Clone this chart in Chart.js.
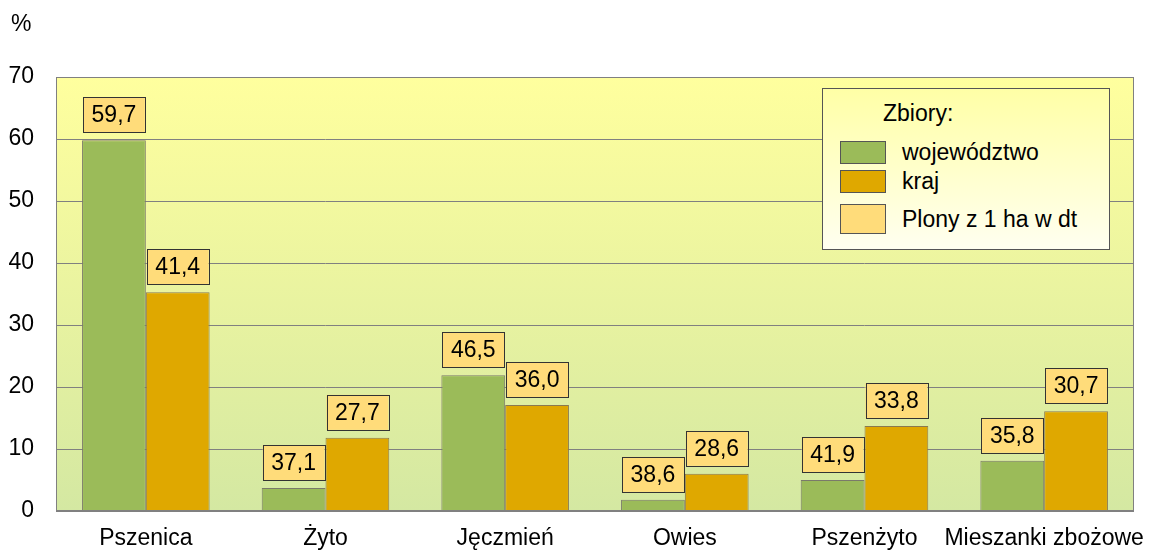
<!DOCTYPE html>
<html lang="pl">
<head>
<meta charset="utf-8">
<script src="https://cdn.jsdelivr.net/npm/chart.js@4/dist/chart.umd.min.js"></script>
<style>
  html, body { margin: 0; padding: 0; background: #fff; }
  #wrap { position: relative; width: 1150px; height: 551px; font-family: 'Liberation Sans', Arial, sans-serif; }
  #unit { position: absolute; left: 11px; top: 10px; font-size: 23px; color: #000; }
  #legenda {
    position: absolute; left: 822px; top: 88px; width: 288px; height: 162px;
    border: 1px solid #555; box-sizing: border-box;
    background: linear-gradient(#ffffa6, #fffff0);
    font-size: 23px; color: #000;
  }
  #legenda .tytul { position: absolute; left: 60px; top: 11px; }
  #legenda .poz { position: absolute; left: 17px; display: flex; align-items: center; }
  #legenda .kolor { width: 46px; border: 1px solid #555; box-sizing: border-box; margin-right: 16px; }
</style>
</head>
<body>
<div id="wrap">
  <canvas id="wykres" width="1150" height="551"></canvas>
  <div id="unit">%</div>
  <div id="legenda">
    <div class="tytul">Zbiory:</div>
    <div class="poz" style="top:50px"><div class="kolor" style="height:23px;background:#9bbb59"></div>województwo</div>
    <div class="poz" style="top:79px"><div class="kolor" style="height:23px;background:#dfa800"></div>kraj</div>
    <div class="poz" style="top:115px"><div class="kolor" style="height:30px;background:#ffdc7a"></div>Plony z 1 ha w dt</div>
  </div>
</div>
<script>
// dane
const zboza = ['Pszenica', 'Żyto', 'Jęczmień', 'Owies', 'Pszenżyto', 'Mieszanki zbożowe'];
const zbioryWojewodztwo = [59.8, 3.7, 21.9, 1.8, 5.0, 8.1];
const zbioryKraj = [35.3, 11.8, 17.1, 6.0, 13.7, 16.1];
const plonyWojewodztwo = [59.7, 37.1, 46.5, 38.6, 41.9, 35.8];
const plonyKraj = [41.4, 27.7, 36.0, 28.6, 33.8, 30.7];
const osY = [0, 10, 20, 30, 40, 50, 60, 70];

const FONT = "'Liberation Sans', Arial, sans-serif";
const ROZMIAR = 23;

// tło obszaru wykresu (gradient)
const tloPlugin = {
    id: 'tlo',
    beforeDraw(chart) {
        const { ctx, chartArea: a } = chart;
        const g = ctx.createLinearGradient(0, a.top, 0, a.bottom);
        g.addColorStop(0, '#ffff9e');
        g.addColorStop(1, '#d4e8a2');
        ctx.save();
        ctx.fillStyle = g;
        ctx.fillRect(a.left, a.top, a.right - a.left, a.bottom - a.top);
        ctx.restore();
    },
    afterDatasetsDraw(chart) {
        const { ctx, chartArea: a } = chart;
        ctx.save();
        ctx.strokeStyle = '#808080';
        ctx.lineWidth = 1;
        ctx.strokeRect(a.left + 0.5, a.top + 0.5, a.right - a.left - 1, a.bottom - a.top);
        ctx.lineWidth = 2;
        ctx.beginPath();
        ctx.moveTo(a.left, a.bottom);
        ctx.lineTo(a.right, a.bottom);
        ctx.stroke();
        ctx.restore();
    }
};

// etykiety z plonami nad słupkami
const plonyPlugin = {
    id: 'plony',
    afterDatasetsDraw(chart) {
        const { ctx } = chart;
        const plony = [plonyWojewodztwo, plonyKraj];
        ctx.save();
        ctx.font = ROZMIAR + 'px ' + FONT;
        ctx.textAlign = 'center';
        ctx.textBaseline = 'middle';
        plony.forEach((arr, d) => {
            chart.getDatasetMeta(d).data.forEach((bar, i) => {
                const w = bar.width - 2;
                const h = 35;
                const x = bar.x - w / 2;
                const y = bar.y - 8 - h;
                ctx.fillStyle = '#ffdc7a';
                ctx.fillRect(x, y, w, h);
                ctx.strokeStyle = '#333';
                ctx.lineWidth = 1;
                ctx.strokeRect(Math.round(x) + 0.5, Math.round(y) + 0.5, Math.round(w), h);
                ctx.fillStyle = '#000';
                ctx.fillText(arr[i].toFixed(1).replace('.', ','), bar.x, y + h / 2 + 1);
            });
        });
        ctx.restore();
    }
};

const ctx = document.getElementById('wykres').getContext('2d');
new Chart(ctx, {
    type: 'bar',
    data: {
        labels: zboza,
        datasets: [
            {
                label: 'województwo',
                data: zbioryWojewodztwo,
                backgroundColor: '#9bbb59',
                borderColor: '#7a7a6a',
                borderWidth: 1,
                categoryPercentage: 0.71,
                barPercentage: 1.0
            },
            {
                label: 'kraj',
                data: zbioryKraj,
                backgroundColor: '#dfa800',
                borderColor: '#8a7a50',
                borderWidth: 1,
                categoryPercentage: 0.71,
                barPercentage: 1.0
            }
        ]
    },
    options: {
        responsive: false,
        animation: false,
        layout: { padding: { top: 77, right: 16, left: 0, bottom: 0 } },
        plugins: {
            legend: { display: false },
            tooltip: { enabled: false }
        },
        scales: {
            x: {
                grid: { display: false, drawTicks: false },
                border: { display: false },
                ticks: { color: '#000', font: { family: FONT, size: ROZMIAR }, padding: 14, maxRotation: 0, autoSkip: false },
                afterFit(s) { s.height = 40; s.paddingLeft = 0; s.paddingRight = 0; }
            },
            y: {
                min: osY[0],
                max: osY[osY.length - 1],
                afterBuildTicks(s) { s.ticks = osY.map(v => ({ value: v })); },
                grid: { color: '#808080', drawTicks: false },
                border: { display: false },
                ticks: { color: '#000', font: { family: FONT, size: ROZMIAR }, padding: 22 },
                afterFit(s) { s.width = 56; }
            }
        }
    },
    plugins: [tloPlugin, plonyPlugin]
});
</script>
</body>
</html>
